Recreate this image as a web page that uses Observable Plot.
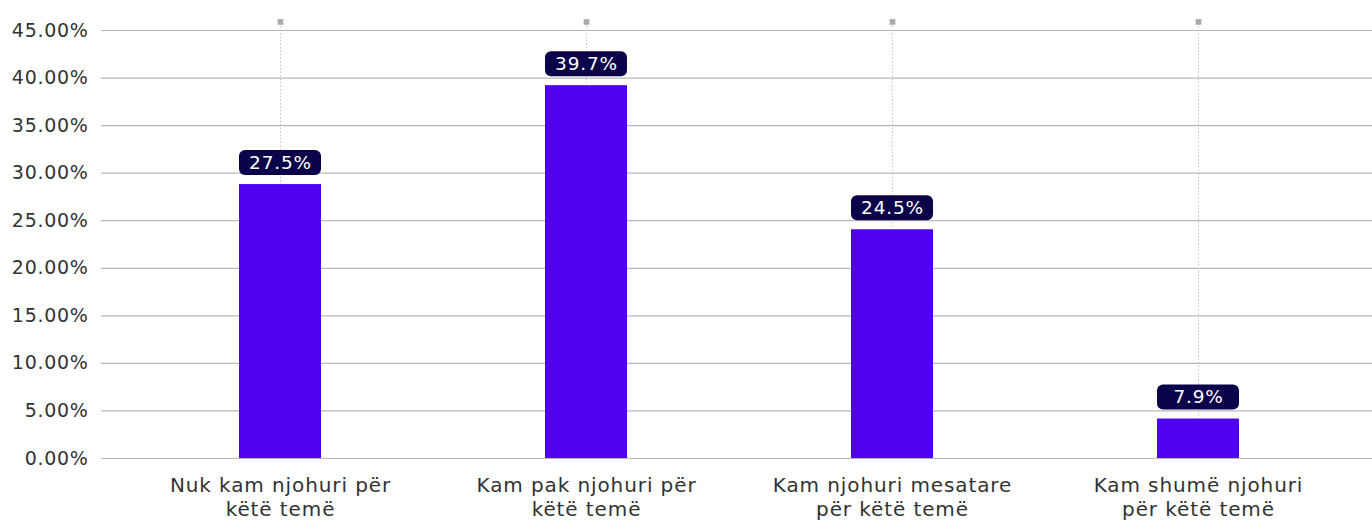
<!DOCTYPE html>
<html>
<head>
<meta charset="utf-8">
<script src="https://cdn.jsdelivr.net/npm/d3@7"></script>
<script src="https://cdn.jsdelivr.net/npm/@observablehq/plot@0.6"></script>
<style>
  html, body { margin: 0; padding: 0; background: #fff; }
  #chart svg { display: block; }
  #chart g[aria-label="x-axis tick label"] { letter-spacing: 0.9px; }
  #chart g[aria-label="y-axis tick label"] { letter-spacing: 0.7px; }
  #chart g[aria-label="text"] { letter-spacing: 0.8px; }
</style>
</head>
<body>
<div id="chart"></div>
<script>
const categories = [
  "Nuk kam njohuri për\nkëtë temë",
  "Kam pak njohuri për\nkëtë temë",
  "Kam njohuri mesatare\npër këtë temë",
  "Kam shumë njohuri\npër këtë temë"
];
const barValues = [28.8, 39.2, 24.05, 4.15];
const labelTexts = ["27.5%", "39.7%", "24.5%", "7.9%"];
const yTicks = [0, 5, 10, 15, 20, 25, 30, 35, 40, 45];
const leaderTop = 45.9;

const data = categories.map((c, i) => ({cat: c, value: barValues[i], label: labelTexts[i]}));

const font = "'DejaVu Sans', sans-serif";

const chart = Plot.plot({
  width: 1372,
  height: 522,
  marginLeft: 101,
  marginRight: 0,
  marginTop: 30,
  marginBottom: 64,
  style: {fontFamily: font, fontSize: "18px", color: "#333", background: "#fff"},
  x: {domain: categories, range: [125.7, 1352.3], paddingInner: 0.733, paddingOuter: 0.3665, label: null},
  y: {domain: [0, 45], label: null},
  marks: [
    Plot.ruleY(yTicks, {stroke: "#b8b8b8", strokeWidth: 1.2}),
    Plot.ruleX(data, {x: "cat", y1: 0, y2: leaderTop, stroke: "#c4c4c4", strokeWidth: 1, strokeDasharray: "1.5,2"}),
    Plot.dot(data, {x: "cat", y: leaderTop, symbol: "square", r: 3.2, fill: "#a9a9a9", stroke: null}),
    Plot.barY(data, {x: "cat", y: "value", fill: "#5000ee"}),
    Plot.barY(data, {x: "cat", y1: "value", y2: "value", insetTop: -34, insetBottom: 9, rx: 6, fill: "#0a0349"}),
    Plot.text(data, {x: "cat", y: "value", text: "label", dy: -22, fill: "#fff", fontSize: 18.5, lineAnchor: "middle"}),
    Plot.axisY({ticks: yTicks, tickSize: 0, tickPadding: 13, tickFormat: d => d.toFixed(2) + "%", fontSize: 19, fill: "#333"}),
    Plot.axisX({tickSize: 0, tickPadding: 17, fontSize: 20, lineHeight: 1.17, fill: "#333"})
  ]
});
document.getElementById("chart").appendChild(chart);
</script>
</body>
</html>
